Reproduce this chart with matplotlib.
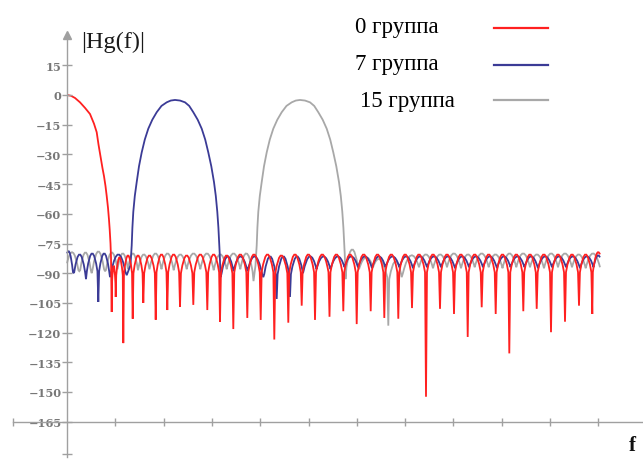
import numpy as np
import matplotlib.pyplot as plt
from matplotlib.path import Path
from matplotlib.patches import PathPatch
from matplotlib.lines import Line2D

# ---- data (f in arbitrary units, level in dB) ----
# group 0 (red), low-pass main lobe then sidelobe nulls
red_main_f = [0, 4, 8, 13, 18, 23, 27, 29.7, 31.5, 33.5, 35.5, 37, 38.5, 39.7,
              41, 42, 42.7, 43.5, 44]
red_main_db = [0, -0.4, -1.5, -3.7, -6.5, -9.6, -14.5, -18.8, -25, -31, -37, -41,
               -46, -51, -57, -63, -68, -75, -82]
red_null_f = [44.7, 48.7, 56.3, 65.7, 76.3, 88.7, 100.3, 113, 126.3, 140.3, 153,
              166.3, 180.3, 193.7, 207.3, 221.3, 234.7, 248, 262.5, 276.3, 289.7,
              303.7, 317.3, 331.3, 345, 359, 373, 387, 400.7, 414.7, 428.7, 442.3,
              456.3, 469.7, 484, 498, 512, 525.3, 533]
red_null_db = [-109.6, -102, -125.3, -113, -105, -113.5, -108.6, -107, -106, -108.6,
               -114.6, -118.2, -112.6, -113.6, -123.5, -115, -106.4, -113.6, -112,
               -109.2, -115.7, -109.2, -112.6, -113, -107.6, -152.4, -108, -110.6,
               -122.2, -107.2, -110.6, -130.5, -109.2, -108, -119.8, -114.5, -106.4,
               -110.6, -80.5]
red_top_db = [-86, -82, -81, -81, -81, -80.5, -80.5, -81, -80.5, -80.5, -81, -80.5,
              -80.5, -80.5, -81, -80.5, -80.5, -80.5, -80.5, -80.5, -80.5, -80.5,
              -80.5, -80.5, -80.5, -80.5, -80.5, -80.5, -80.5, -80.5, -80.5, -80.5,
              -80.5, -80.5, -80.5, -80.5, -80.5, -80.5]

# group 7 (blue)
blue_left_f = [0, 6.3, 19, 31.3, 43, 59.7]
blue_left_db = [-80, -90, -93, -104.5, -92, -91]
blue_left_top = [-80, -80.5, -80, -80, -80.5]
blue_main_f = [63.5, 64.2, 64.7, 65.4, 66.3, 67.8, 69.7, 72, 74.7, 77.8, 81.3, 85.3,
               89.7, 94.5, 99.7, 103.8, 108, 113, 118, 122.2, 126.3, 130.7, 134.7,
               138.2, 141.3, 144.3, 147, 148.8, 150.3, 151.4, 152.3, 152.7, 153]
blue_main_db = [-86, -80, -76, -67, -59, -51, -44, -36, -29, -22.5, -17, -12.5, -8.7,
                -5.5, -3.7, -2.8, -2.5, -2.8, -3.7, -5.5, -8.7, -12.5, -17, -22.5,
                -29, -36, -44, -51, -59, -67, -76, -80, -84]
blue_right_f = [153.5, 166.5, 180.5, 196.3, 209.7, 223, 236, 249.5, 263.5, 277.5,
                291, 305, 318.5, 332.5, 346, 360, 374, 388, 402, 416, 430, 443.5,
                457.5, 471, 485, 499, 513, 526.5, 533]
blue_right_db = [-92, -89, -89, -92, -103, -102, -90, -88, -88, -87, -87, -87.5,
                 -87, -87, -87.5, -87, -87, -87.5, -87, -87, -87.5, -87, -87, -87.5,
                 -87, -87, -87.5, -87, -82]
blue_right_top = [-81.5, -81.5, -81.5, -81.5, -81.5, -81.5, -81.5, -81.5, -81.5,
                  -81.5, -81.5, -81.5, -81.5, -81.5, -81.5, -81.5, -81.5, -81.5,
                  -81.5, -81.5, -81.5, -81.5, -81.5, -81.5, -81.5, -81.5, -81.5,
                  -81.5]

# group 15 (gray)
gray_left_f = [0, 12.3, 24.7, 38, 50.5, 61, 71, 82.5, 94.5, 106.7, 119.7, 133.3,
               146.7, 159.7, 173.3, 186.5]
gray_left_db = [-85, -89, -90, -89, -88, -88, -88.5, -88, -88, -88.5, -88, -88,
                -88.5, -88, -88, -94]
gray_left_top = [-79.5, -79.5, -79, -79.5, -80, -80, -80.5, -80, -80, -80.5, -80,
                 -80, -80.5, -80, -80]
gray_main_f = [188.5, 189.2, 189.7, 190.4, 191.3, 192.8, 194.7, 197, 199.7, 202.8,
               206.3, 210.3, 214.7, 219.5, 224.7, 228.8, 233, 238, 243, 247.2,
               251.3, 255.7, 259.7, 263.2, 266.3, 269.3, 272, 273.8, 275.3, 276.4,
               277.3, 277.7, 278]
gray_main_db = [-86, -80, -76, -67, -59, -51, -44, -36, -29, -22.5, -17, -12.5, -8.7,
                -5.5, -3.7, -2.8, -2.5, -2.8, -3.7, -5.5, -8.7, -12.5, -17, -22.5,
                -29, -36, -44, -51, -59, -67, -76, -80, -84]
gray_right_f = [278.5, 292, 306, 321.3, 334.7, 352, 366, 380, 394, 407.7, 421.7,
                435.5, 449.3, 463, 477, 491, 505, 518.7, 533]
gray_right_db = [-93, -88, -87, -116.5, -92, -87, -87.5, -87, -87.5, -87, -87,
                 -87.5, -87, -87, -87.5, -87, -87, -87.5, -87]
gray_right_top = [-78, -82, -83, -84, -81, -80.5, -80.5, -80, -80.5, -80, -80.5,
                  -80, -80, -80.5, -80, -80, -80.5, -80]

y_ticks = [15, 0, -15, -30, -45, -60, -75, -90, -105, -120, -135, -150, -165]
legend_labels = ['0 группа', '7 группа', '15 группа']
colors = ['#ff2020', '#3b3b96', '#a8a8a8']


def add_arches(verts, codes, xs, ys, tops):
    # sidelobe arches between cusp points, drawn as quadratic curves
    for i in range(len(tops)):
        x0, d0, x1, d1, t = xs[i], ys[i], xs[i + 1], ys[i + 1], tops[i]
        w = x1 - x0
        s0 = max(d0, t - 9)
        s1 = max(d1, t - 9)
        a = x0 + 0.07 * w if d0 < s0 else x0
        b = x1 - 0.07 * w if d1 < s1 else x1
        if a != x0:
            verts.append((a, s0)); codes.append(Path.LINETO)
        verts += [((a + b) / 2, 2 * t - (s0 + s1) / 2), (b, s1)]
        codes += [Path.CURVE3, Path.CURVE3]
        if b != x1:
            verts.append((x1, d1)); codes.append(Path.LINETO)


def add_line(verts, codes, xs, ys):
    for x, y in zip(xs, ys):
        verts.append((x, y))
        codes.append(Path.LINETO if verts[:-1] else Path.MOVETO)


W, H = 643, 460
fig = plt.figure(figsize=(W / 100, H / 100), dpi=100)
ax = fig.add_axes([0, 0, 1, 1])
x0px, y0px, ppu = 67, 96, 1.98
ax.set_xlim(-x0px, W - x0px)
ax.set_ylim(-(H - y0px) / ppu, y0px / ppu)

# gray (15)
v, c = [], []
add_line(v, c, gray_left_f[:1], gray_left_db[:1])
add_arches(v, c, gray_left_f, gray_left_db, gray_left_top)
add_line(v, c, gray_main_f, gray_main_db)
add_line(v, c, gray_right_f[:1], gray_right_db[:1])
add_arches(v, c, gray_right_f, gray_right_db, gray_right_top)
ax.add_patch(PathPatch(Path(v, c), fill=False, ec=colors[2], lw=1.3))

# blue (7)
v, c = [], []
add_line(v, c, blue_left_f[:1], blue_left_db[:1])
add_arches(v, c, blue_left_f, blue_left_db, blue_left_top)
add_line(v, c, blue_main_f, blue_main_db)
add_line(v, c, blue_right_f[:1], blue_right_db[:1])
add_arches(v, c, blue_right_f, blue_right_db, blue_right_top)
ax.add_patch(PathPatch(Path(v, c), fill=False, ec=colors[1], lw=1.3))

# red (0)
v, c = [], []
add_line(v, c, red_main_f, red_main_db)
add_line(v, c, red_null_f[:1], red_null_db[:1])
add_arches(v, c, red_null_f, red_null_db, red_top_db)
ax.add_patch(PathPatch(Path(v, c), fill=False, ec=colors[0], lw=1.3))

# axes drawn through the origin like the original
axc = '#a0a0a0'
for s in ['top', 'right']:
    ax.spines[s].set_visible(False)
ax.spines['left'].set_position(('data', 0))
ax.spines['bottom'].set_position(('data', -165))
ax.spines['left'].set_bounds(-183, 31)
ax.spines['bottom'].set_bounds(-54, W - x0px)
for s in ['left', 'bottom']:
    ax.spines[s].set_color(axc)
    ax.spines[s].set_linewidth(1.0)
ax.plot(0, 30.3, marker='^', ms=6, color=axc, clip_on=False)

ax.set_yticks(y_ticks + [-181.5])
ax.set_yticklabels([str(t).replace('-', '\u2212') for t in y_ticks] + [''],
                   fontfamily='DejaVu Serif', fontweight='bold', fontsize=8.2,
                   color='#777777')
ax.tick_params(axis='y', direction='inout', length=7, width=1, color=axc, pad=0.5)
ax.set_xticks([-54] + list(48.3 * np.arange(1, 12)))
ax.set_xticklabels([])
ax.tick_params(axis='x', direction='inout', length=6, width=1, color=axc)


def fx(px):
    return px / W


def fy(py):
    return 1 - py / H


serif = ['Liberation Serif', 'DejaVu Serif']
fig.text(fx(81), fy(48), '|Hg(f)|', fontfamily=serif, fontsize=17.5,
         color='#1a1a1a', va='baseline')
fig.text(fx(629), fy(451), 'f', fontfamily=serif, fontsize=15,
         fontweight='bold', color='#111111', va='baseline')

# legend: text on the left, sample line on the right
lx = [355, 355, 360]
ly = [33, 70.5, 107]
sy = [29.3, 66, 101]
for lab, col, x, y, s in zip(legend_labels, colors, lx, ly, sy):
    fig.text(fx(x), fy(y), lab, fontfamily=serif, fontsize=16.5,
             color='black', va='baseline')
    fig.add_artist(Line2D([fx(494), fx(548)], [fy(s), fy(s)], color=col, lw=1.6))

fig.savefig('out.png', dpi=100)
